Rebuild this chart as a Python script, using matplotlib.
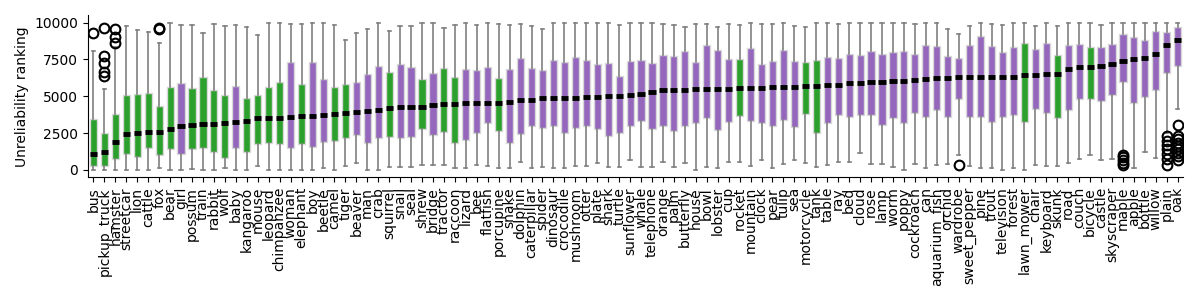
import matplotlib
matplotlib.use('Agg')
import matplotlib.pyplot as plt

# class names, sorted by median unreliability ranking
classes = ["bus", "pickup_truck", "hamster", "streetcar", "lion", "cattle", "fox", "bear", "girl", "possum",
           "train", "rabbit", "wolf", "baby", "kangaroo", "mouse", "leopard", "chimpanzee", "woman", "elephant",
           "boy", "beetle", "camel", "tiger", "beaver", "man", "crab", "squirrel", "snail", "seal",
           "shrew", "bridge", "tractor", "raccoon", "lizard", "bee", "flatfish", "porcupine", "snake", "dolphin",
           "caterpillar", "spider", "dinosaur", "crocodile", "mushroom", "otter", "plate", "shark", "turtle", "sunflower",
           "whale", "telephone", "orange", "palm", "butterfly", "house", "bowl", "lobster", "cup", "rocket",
           "mountain", "clock", "pear", "tulip", "sea", "motorcycle", "tank", "table", "ray", "bed",
           "cloud", "rose", "lamp", "worm", "poppy", "cockroach", "can", "aquarium_fish", "orchid", "wardrobe",
           "sweet_pepper", "pine", "trout", "television", "forest", "lawn_mower", "chair", "keyboard", "skunk", "road",
           "couch", "bicycle", "castle", "skyscraper", "maple", "apple", "bottle", "willow", "plain", "oak"]

whislo = [0, 0, 0, 0, 0, 0, 113, 0, 0, 50,
          0, 0, 113, 0, 0, 271, 0, 0, 0, 0,
          0, 113, 0, 271, 452, 0, 0, 181, 181, 181,
          317, 317, 317, 113, 113, 317, 271, 113, 113, 520,
          113, 181, 113, 113, 271, 271, 452, 181, 181, 656,
          181, 181, 520, 181, 452, 0, 181, 113, 520, 520,
          249, 656, 113, 385, 656, 452, 181, 317, 520, 520,
          1131, 385, 385, 181, 0, 385, 113, 317, 385, 995,
          249, 113, 113, 0, 113, 0, 317, 249, 249, 452,
          724, 995, 656, 724, 1176, 113, 1199, 792, 2500, 4141]

q1 = [249, 271, 724, 1063, 860, 1471, 995, 1403, 1063, 1403,
      1471, 1244, 792, 1471, 1244, 1765, 1855, 1742, 1471, 1787,
      1584, 1923, 1991, 2149, 2398, 1855, 2195, 2217, 2149, 2262,
      2760, 2398, 2602, 1810, 2014, 2534, 3167, 2624, 1810, 2421,
      3009, 2828, 2964, 2489, 2828, 3009, 2760, 2285, 2489, 2964,
      3348, 2760, 3009, 2624, 2964, 3213, 3507, 2692, 3281, 3643,
      3348, 3213, 3009, 3416, 2941, 3824, 2489, 3213, 3756, 3620,
      3756, 3756, 3077, 3507, 3213, 3891, 3620, 4050, 3620, 4842,
      3620, 3575, 3281, 3620, 3756, 3281, 4163, 3891, 3552, 4095,
      4796, 4796, 4706, 5113, 5950, 4570, 4977, 5407, 6561, 7081]

med = [1109, 1222, 1923, 2443, 2534, 2579, 2579, 2805, 2986, 3077,
       3145, 3145, 3213, 3281, 3348, 3507, 3552, 3552, 3620, 3688,
       3688, 3756, 3824, 3891, 3959, 4027, 4095, 4231, 4299, 4299,
       4299, 4434, 4502, 4502, 4570, 4570, 4570, 4570, 4638, 4774,
       4774, 4910, 4910, 4910, 4910, 4977, 4977, 5045, 5045, 5113,
       5181, 5317, 5452, 5452, 5452, 5520, 5520, 5520, 5520, 5588,
       5588, 5588, 5656, 5656, 5656, 5724, 5724, 5792, 5792, 5928,
       5928, 5995, 5995, 6063, 6063, 6131, 6199, 6267, 6267, 6335,
       6335, 6335, 6335, 6335, 6335, 6471, 6471, 6538, 6538, 6878,
       7014, 7014, 7081, 7217, 7421, 7557, 7624, 7896, 8507, 8846]

q3 = [3462, 2489, 3778, 5113, 5158, 5204, 4321, 5611, 5882, 5543,
      6335, 5430, 5090, 5701, 4864, 5068, 5611, 5973, 7330, 5814,
      7330, 6154, 5611, 5814, 5950, 6493, 7036, 6629, 7172, 6968,
      6154, 6561, 6900, 6290, 6833, 6765, 6968, 6222, 6833, 7579,
      6900, 6765, 7443, 7330, 7647, 7443, 7172, 7240, 6357, 7376,
      7443, 7240, 7783, 7715, 8054, 7330, 8462, 8122, 7511, 7511,
      8258, 7172, 7376, 8122, 7376, 7308, 7443, 7647, 7579, 7851,
      7805, 8054, 7873, 7986, 8054, 7873, 8462, 8394, 7715, 7579,
      8462, 9095, 8394, 7986, 8326, 8597, 8190, 8597, 7783, 8462,
      8529, 8371, 8326, 8529, 9208, 9004, 8801, 9412, 9344, 9683]

whishi = [8077, 5500, 8350, 9774, 9502, 9367, 8597, 9955, 9842, 9842,
          9321, 9910, 9774, 9842, 9683, 9163, 9955, 9955, 9910, 9887,
          9955, 10000, 9842, 8824, 9299, 9570, 9955, 9434, 9774, 9774,
          9955, 9955, 9615, 9842, 9955, 9842, 9955, 9887, 9842, 9887,
          9774, 9570, 9955, 9955, 9955, 9955, 9955, 9955, 9842, 10000,
          9955, 9955, 9887, 9842, 9683, 9887, 9887, 9683, 9887, 9842,
          9955, 9887, 9887, 9955, 9774, 9683, 9955, 10000, 9887, 9955,
          9955, 9955, 9955, 9955, 9955, 9887, 9955, 9955, 9570, 9231,
          9774, 10000, 9887, 9842, 9955, 9955, 9774, 9955, 9774, 9955,
          10000, 9955, 9842, 9955, 10000, 9955, 9955, 9955, 10000, 10000]

# 1 = green group, 0 = purple group
group = [1, 1, 1, 1, 1, 1, 1, 1, 0, 1,
         1, 1, 1, 0, 1, 1, 1, 1, 0, 1,
         0, 0, 1, 1, 0, 0, 0, 1, 0, 0,
         1, 0, 1, 1, 0, 0, 0, 1, 0, 0,
         0, 0, 0, 0, 0, 0, 0, 0, 0, 0,
         0, 0, 0, 0, 0, 0, 0, 0, 0, 1,
         0, 0, 0, 0, 0, 1, 1, 0, 0, 0,
         0, 0, 0, 0, 0, 0, 0, 0, 0, 0,
         0, 0, 0, 0, 0, 1, 0, 0, 1, 0,
         0, 1, 0, 0, 0, 0, 0, 0, 0, 0]

outliers = {
    "bus": [9277],
    "pickup_truck": [9660, 7760, 7240, 6630, 6400],
    "hamster": [9572, 9050, 8600],
    "fox": [9550, 9650],
    "wardrobe": [339],
    "maple": [1018, 860, 679, 498, 339],
    "plain": [2308, 1991, 1697, 1403, 1086, 724, 339],
    "oak": [3055, 2308, 2084, 1856, 1629, 1403, 1176, 950, 679],
}

GREEN = '#2ca02c'
PURPLE = '#9467bd'

stats = []
for i, name in enumerate(classes):
    stats.append({'label': name, 'whislo': whislo[i], 'q1': q1[i], 'med': med[i],
                  'q3': q3[i], 'whishi': whishi[i], 'fliers': outliers.get(name, [])})

fig = plt.figure(figsize=(12, 3), dpi=100)
ax = fig.add_subplot(111)
bp = ax.bxp(stats, positions=range(len(classes)), widths=0.65, patch_artist=True,
            boxprops=dict(edgecolor='#d8d8d8', linewidth=1.0),
            whiskerprops=dict(color='#808080', linewidth=1.2),
            capprops=dict(color='#808080', linewidth=1.2),
            medianprops=dict(color='black', linewidth=3.5, solid_capstyle='butt'),
            flierprops=dict(marker='o', markerfacecolor='none', markeredgecolor='black',
                            markersize=7, markeredgewidth=1.5))
for patch, g in zip(bp['boxes'], group):
    patch.set_facecolor(GREEN if g else PURPLE)
for cap in bp['caps']:
    x = cap.get_xdata()
    c = (x[0] + x[1]) / 2.0
    cap.set_xdata([c - 0.15, c + 0.15])

ax.set_xlim(-0.5, len(classes) - 0.5)
ax.set_ylim(-500, 10500)
ax.set_yticks([0, 2500, 5000, 7500, 10000])
ax.set_xticks(range(len(classes)))
ax.set_xticklabels(classes, rotation=90, fontsize=10)
ax.tick_params(axis='y', labelsize=10)
ax.set_ylabel("Unreliability ranking", fontsize=10)
ax.spines['top'].set_visible(False)
ax.spines['right'].set_visible(False)

plt.subplots_adjust(left=0.0733, right=0.986, top=0.949, bottom=0.409)
plt.savefig("out.png", dpi=100)
